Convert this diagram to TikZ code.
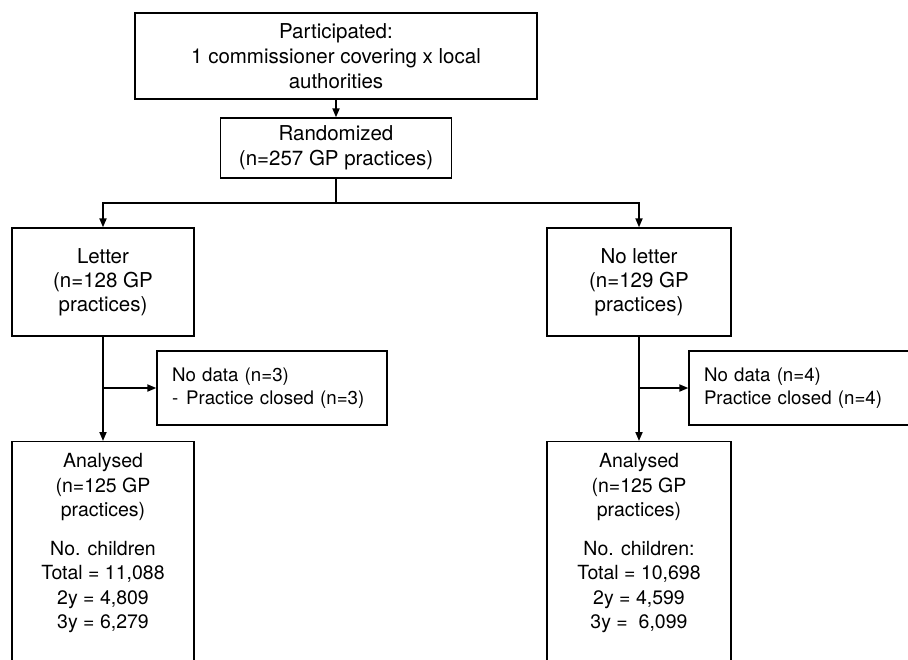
\documentclass[tikz,border=0pt]{standalone}
\usepackage{fontspec}
\setmainfont{TeX Gyre Heros}
\usetikzlibrary{arrows.meta}
\begin{document}
\begin{tikzpicture}[x=1pt,y=-1pt,
  box/.style={draw, line width=1.3pt, inner sep=0pt, font=\fontsize{20.5}{25}\selectfont, align=center},
  sidebox/.style={box, font=\fontsize{18.7}{23}\selectfont, align=left, inner xsep=15pt, text width=200pt, minimum height=74pt},
  resbox/.style={box, font=\fontsize{19.5}{24.5}\selectfont, anchor=north, inner ysep=12pt},
  conn/.style={line width=1.8pt},
  arr/.style={conn, -{Triangle[length=9pt,width=7pt]}}]
\useasboundingbox (0,0) rectangle (908,659);
\clip (0,0) rectangle (908,659);
\node[box, minimum width=402pt, minimum height=86pt] (top) at (336,56) {Participated:\\1 commissioner covering x local\\authorities};
\node[box, minimum width=231pt, minimum height=60pt] (rand) at (336,148) {Randomized\\(n=257 GP practices)};
\node[box, font=\fontsize{20.5}{24}\selectfont, minimum width=182pt, minimum height=108pt] (letter) at (103,282) {Letter\\(n=128 GP\\practices)};
\node[box, font=\fontsize{20.5}{24}\selectfont, minimum width=184pt, minimum height=108pt] (noletter) at (639,282) {No letter\\(n=129 GP\\practices)};
\node[sidebox] (ndl) at (272,388) {No data (n=3)\\-\hspace{8pt}Practice closed (n=3)};
\node[sidebox] (ndr) at (804,388) {No data (n=4)\\Practice closed (n=4)};
\node[resbox, minimum width=182pt] (al) at (103,441) {Analysed\\(n=125 GP\\practices)\\[14pt]No. children\\Total = 11,088\\2y = 4,809\\3y = 6,279\rule[-60pt]{0pt}{60pt}};
\node[resbox, minimum width=184pt] (ar) at (639,441) {Analysed\\(n=125 GP\\practices)\\[14pt]No. children:\\Total = 10,698\\2y = 4,599\\3y =\ \ 6,099\rule[-60pt]{0pt}{60pt}};
\coordinate (split) at (336,203);
\draw[arr] (top.south) -- (rand.north);
\draw[conn] (rand.south) -- (split);
\draw[arr] (split) -| (letter.north);
\draw[arr] (split) -| (noletter.north);
\draw[arr] (letter.south) -- (al.north);
\draw[arr] (noletter.south) -- (ar.north);
\draw[arr] (letter.south |- ndl.west) -- (ndl.west);
\draw[arr] (noletter.south |- ndr.west) -- (ndr.west);
\end{tikzpicture}
\end{document}
